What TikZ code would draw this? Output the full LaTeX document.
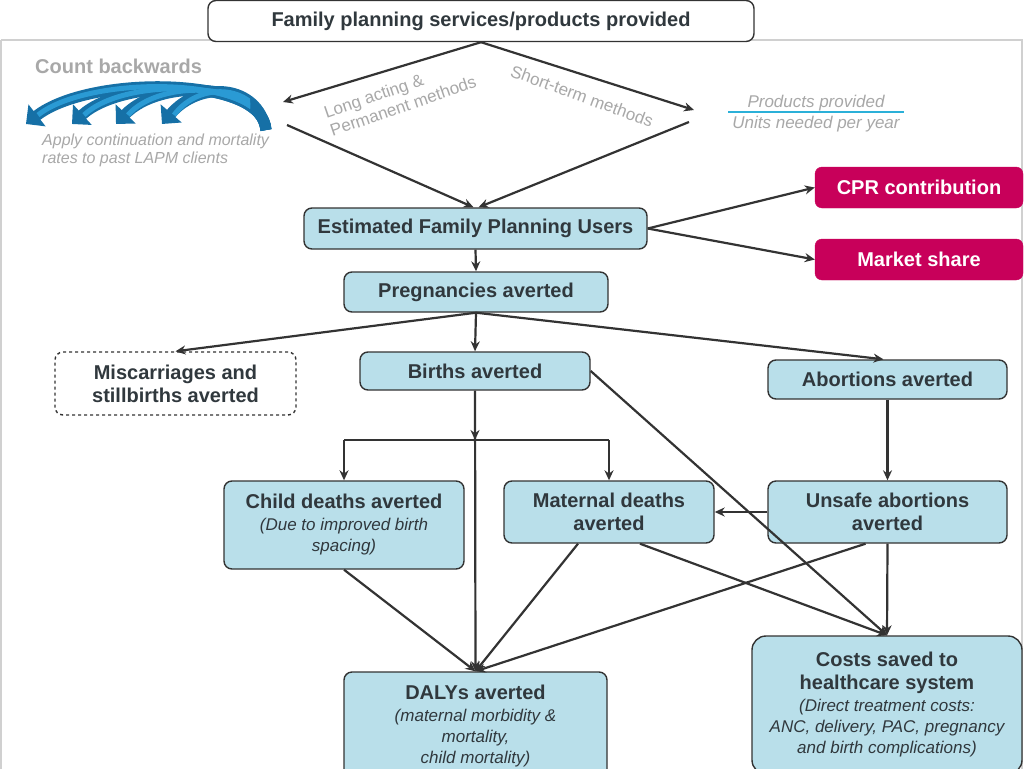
\documentclass[tikz,border=0pt]{standalone}
\usepackage{fontspec}
\setmainfont{Liberation Sans}
\usetikzlibrary{arrows.meta,calc}
\definecolor{lblue}{HTML}{B9DFEA}
\definecolor{dark}{HTML}{333333}
\definecolor{txt}{HTML}{30383D}
\definecolor{lgray}{HTML}{A8A8A8}
\definecolor{frame}{HTML}{D0D0D0}
\definecolor{mag}{HTML}{C8005A}
\definecolor{cyanl}{HTML}{2BB0D8}
\definecolor{bluea}{HTML}{1670A6}
\definecolor{blueb}{HTML}{2A9AD4}
\newcommand\subt[1]{{\mdseries\itshape\fontsize{17}{20}\selectfont #1}}
\begin{document}
\begin{tikzpicture}[x=1pt,y=-1pt,
  box/.style={rectangle, rounded corners=8pt, draw=dark, line width=1.4pt, fill=lblue,
    font=\bfseries\fontsize{20}{23}\selectfont, text=txt, align=center, inner sep=0pt},
  magbox/.style={rectangle, rounded corners=7pt, fill=mag, draw=mag,
    font=\bfseries\fontsize{20}{23}\selectfont, text=white, align=center, inner sep=0pt},
  conn/.style={draw=dark, line width=2.2pt, -{Stealth[length=10pt,width=9pt]}},
  plain/.style={draw=dark, line width=2.2pt},
  graytxt/.style={text=lgray, font=\fontsize{17}{19}\selectfont, inner sep=0pt},
  backarrow/.style={draw=bluea, line width=11pt, -{Triangle[length=14pt,width=27pt]}},
  backhl/.style={draw=blueb, line width=5pt}
]
\useasboundingbox (0,0) rectangle (1024,768);
\fill[white] (0,0) rectangle (1024,768);
\draw[frame, line width=1.2pt] (1,40) -- (1022,40) -- (1022,770);
\draw[frame, line width=1.2pt] (1,40) -- (1,770);

% top box
\node[box, fill=white, minimum width=546pt, minimum height=41pt] (top) at (481,21) {Family planning services/products provided};

% diamond coordinates
\coordinate (lp) at (283,102);
\coordinate (rp) at (694,110);
\coordinate (ll) at (287,125);
\coordinate (rl) at (689,122);

% boxes
\node[box, minimum width=343pt, minimum height=41pt] (efpu) at (475.5,228.5) {Estimated Family Planning Users};
\node[box, minimum width=264pt, minimum height=40pt] (preg) at (476,292) {Pregnancies averted};
\node[magbox, minimum width=208pt, minimum height=41pt] (cpr) at (919,187.5) {CPR contribution};
\node[magbox, minimum width=208pt, minimum height=41pt] (mkt) at (919,259.5) {Market share};
\node[box, fill=white, dashed, minimum width=241pt, minimum height=63pt] (misc) at (175.5,383.5) {Miscarriages and\\stillbirths averted};
\node[box, minimum width=230pt, minimum height=38pt] (births) at (475,371) {Births averted};
\node[box, minimum width=239pt, minimum height=39pt] (abort) at (887.5,379.5) {Abortions averted};
\node[box, minimum width=240pt, minimum height=88pt] (child) at (344,525) {Child deaths averted\\[-1pt]\subt{(Due to improved birth}\\[-2pt]\subt{spacing)}};
\node[box, minimum width=210pt, minimum height=62pt] (mat) at (609,512) {Maternal deaths\\averted};
\node[box, minimum width=239pt, minimum height=62pt] (unsafe) at (887.5,512) {Unsafe abortions\\averted};
\node[box, minimum width=263pt, minimum height=108pt] (dalys) at (475.5,726) {DALYs averted\\[-1pt]\subt{(maternal morbidity \&}\\[-2pt]\subt{mortality,}\\[-2pt]\subt{child mortality)}};
\node[box, rounded corners=14pt, minimum width=270pt, minimum height=138pt] (costs) at (887,705) {Costs saved to\\healthcare system\\[-1pt]\subt{(Direct treatment costs:}\\[-2pt]\subt{ANC, delivery, PAC, pregnancy}\\[-2pt]\subt{and birth complications)}};

% diamond
\draw[conn] (top.south) -- (lp);
\draw[conn] (top.south) -- (rp);
\draw[conn] (ll) -- ([xshift=-2pt]efpu.north);
\draw[conn] (rl) -- ([xshift=3pt]efpu.north);

\node[graytxt, rotate=19, align=left] (lapm) at (400,97) {Long acting \&\\Permanent methods};
\node[graytxt, rotate=-20] (stm) at (582,96) {Short-term methods};

% products provided
\node[graytxt, font=\itshape\fontsize{17}{19}\selectfont] (pp) at (816,103) {Products provided};
\node[graytxt, font=\itshape\fontsize{17}{19}\selectfont] (un) at (816,124) {Units needed per year};
\coordinate (fl) at (728,112);
\coordinate (fr) at (904,112);
\draw[cyanl, line width=2pt] (fl) -- (fr);

% count backwards
\node[graytxt, anchor=west, font=\bfseries\fontsize{20}{22}\selectfont] (cb) at (35,66) {Count backwards};
\coordinate (bs) at (266,130);
\coordinate (h1) at (26,124);
\coordinate (h2) at (72,124);
\coordinate (h3) at (116,124);
\coordinate (h4) at (162,124);
\draw[backarrow] (bs) .. controls (264,76) and (90,74) .. (h1);
\draw[backarrow] (bs) .. controls (262,80) and (125,76) .. (h2);
\draw[backarrow] (bs) .. controls (260,82) and (160,78) .. (h3);
\draw[backarrow] (bs) .. controls (258,84) and (200,80) .. (h4);
\begin{scope}
\clip (0,0) rectangle (250,130);
\draw[backhl] (bs) .. controls (264,76) and (90,74) .. ($(h1)+(12,-9)$);
\draw[backhl] (bs) .. controls (262,80) and (125,76) .. ($(h2)+(12,-9)$);
\draw[backhl] (bs) .. controls (260,82) and (160,78) .. ($(h3)+(12,-9)$);
\draw[backhl] (bs) .. controls (258,84) and (200,80) .. ($(h4)+(12,-9)$);
\end{scope}
\node[graytxt, anchor=west, align=left, font=\itshape\fontsize{16}{18}\selectfont] (apply) at (42,150) {Apply continuation and mortality\\rates to past LAPM clients};

% main connectors
\draw[conn] (efpu.south) -- (preg.north);
\draw[conn] (efpu.east) -- (cpr.west);
\draw[conn] (efpu.east) -- (mkt.west);
\draw[conn] (preg.south) -- (misc.north);
\draw[conn] (preg.south) -- (births.north);
\draw[conn] (preg.south) -- ([xshift=-4pt]abort.north);

\coordinate (jn) at (475,440);
\coordinate (jl) at (344,440);
\coordinate (jr) at (609,440);
\draw[conn] (births.south) -- (jn);
\draw[plain] (jl) -- (jr);
\draw[conn] (jl) -- (child.north);
\draw[conn] (jr) -- (mat.north);
\draw[conn] (births.south) -- (dalys.north);
\draw[conn] (births.east) -- (costs.north);
\draw[conn] (abort.south) -- (unsafe.north);
\draw[conn] (unsafe.west) -- (mat.east);
\draw[conn] (child.south) -- (dalys.north);
\draw[conn] ([xshift=-31pt]mat.south) -- (dalys.north);
\draw[conn] ([xshift=-22pt]unsafe.south) -- (dalys.north);
\draw[conn] ([xshift=31pt]mat.south) -- (costs.north);
\draw[conn] (unsafe.south) -- (costs.north);
\end{tikzpicture}
\end{document}
